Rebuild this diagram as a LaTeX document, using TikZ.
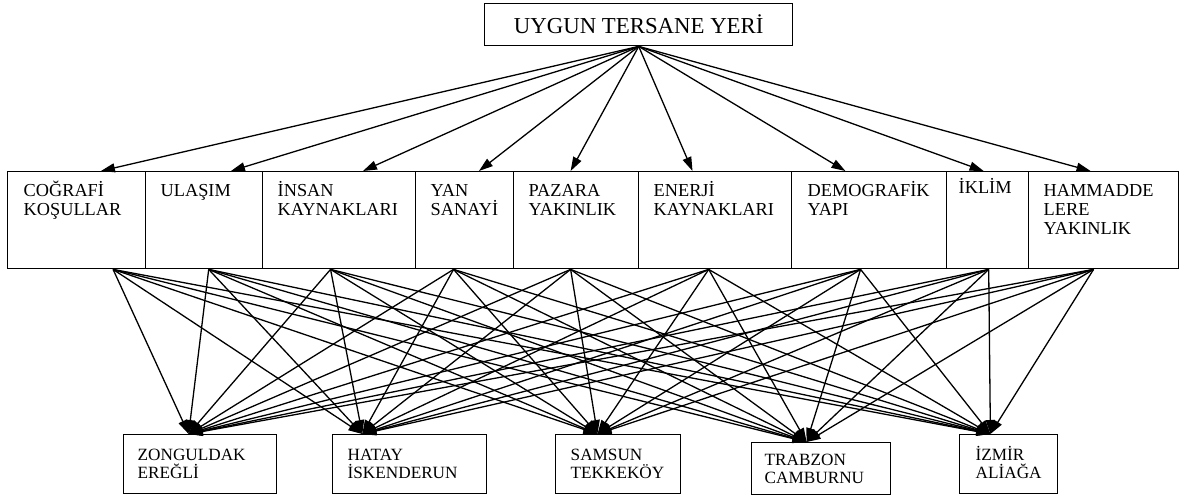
\documentclass[tikz,border=0pt]{standalone}
\usepackage{fontspec}
\setmainfont{Liberation Serif}
\usetikzlibrary{arrows.meta,calc}
\newcommand\cellbox[5]{%
  \parbox[b][#2pt][t]{#1pt}{\leftskip=#4pt\rightskip=0pt plus 1fil\parindent=0pt\rule{0pt}{#3pt}#5}}
\tikzset{
  cell/.style={draw, line width=1.4pt, inner sep=0pt, anchor=north west, font=\fontsize{18.3}{19}\selectfont},
  low/.style={draw, line width=1.4pt, inner sep=0pt, anchor=north west, font=\fontsize{17.2}{18}\selectfont},
  arr/.style={line width=1.3pt, -{Triangle[length=14pt,width=9pt]}},
}
\begin{document}
\begin{tikzpicture}[x=1pt,y=-1pt]
\useasboundingbox (0,0) rectangle (1183,497);
\node[draw, line width=1.4pt, minimum width=308pt, minimum height=42pt, inner sep=0pt, anchor=north west,
  font=\fontsize{22.8}{24}\selectfont] (top) at (484,3) {UYGUN TERSANE YERİ};
% middle row
\node[cell] (m1) at (7,171)    {\cellbox{138}{97}{25}{16}{COĞRAFİ\\KOŞULLAR}};
\node[cell] (m2) at (145,171)  {\cellbox{117}{97}{25}{15}{ULAŞIM}};
\node[cell] (m3) at (262,171)  {\cellbox{153}{97}{25}{15}{İNSAN\\KAYNAKLARI}};
\node[cell] (m4) at (415,171)  {\cellbox{98}{97}{25}{15}{YAN\\SANAYİ}};
\node[cell] (m5) at (513,171)  {\cellbox{125}{97}{25}{15}{PAZARA\\YAKINLIK}};
\node[cell] (m6) at (638,171)  {\cellbox{153}{97}{25}{15}{ENERJİ\\KAYNAKLARI}};
\node[cell] (m7) at (791,171)  {\cellbox{155}{97}{25}{16}{DEMOGRAFİK\\YAPI}};
\node[cell] (m8) at (946,171)  {\cellbox{82}{97}{22}{12}{İKLİM}};
\node[cell] (m9) at (1028,171) {\cellbox{150}{97}{25}{15}{HAMMADDE\\LERE\\YAKINLIK}};
% bottom row
\node[low] (z) at (123,434) {\cellbox{153}{59}{26}{14}{ZONGULDAK\\EREĞLİ}};
\node[low] (h) at (332,434) {\cellbox{154}{59}{26}{15}{HATAY\\İSKENDERUN}};
\node[low] (s) at (555,434) {\cellbox{125}{59}{26}{15}{SAMSUN\\TEKKEKÖY}};
\node[low] (t) at (751,442) {\cellbox{139}{52}{23}{13}{TRABZON\\CAMBURNU}};
\node[low] (i) at (959,434) {\cellbox{98}{59}{26}{16}{İZMİR\\ALİAĞA}};
% top arrows
\foreach \n/\f in {m1/0.674,m2/0.726,m3/0.654,m4/0.643,m5/0.456,m6/0.353,m7/0.348,m8/0.451,m9/0.413}
  \draw[arr] (top.south) -- ($(\n.north west)!\f!(\n.north east)$);
% bottom arrows
\foreach \n/\f in {m1/0.761,m2/0.538,m3/0.444,m4/0.388,m5/0.456,m6/0.458,m7/0.445,m8/0.512,m9/0.433}
  \foreach \b/\g in {z/0.425,h/0.195,s/0.336,t/0.396,i/0.316}
    \draw[arr] ($(\n.south west)!\f!(\n.south east)$) -- ($(\b.north west)!\g!(\b.north east)$);
\end{tikzpicture}
\end{document}
